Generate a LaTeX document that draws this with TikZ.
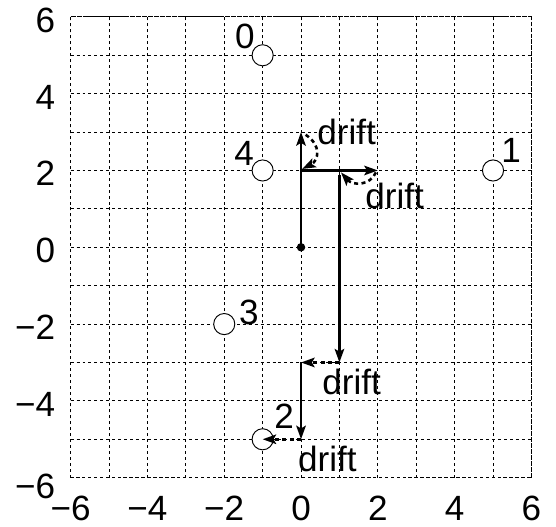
\documentclass[tikz,border=0pt]{standalone}
\usepackage{fontspec}
\setmainfont{Liberation Sans}
\usetikzlibrary{arrows.meta}
\begin{document}
\begin{tikzpicture}[
  every node/.style={font=\fontsize{26}{30}\selectfont, inner sep=0pt},
  gridline/.style={line width=0.6pt, dash pattern=on 2.2pt off 2.2pt},
  pt/.style={circle, draw, fill=white, line width=0.7pt, minimum size=0.55cm},
  dotnode/.style={circle, fill=black, minimum size=0.22cm},
  move/.style={line width=1.9pt, -{Stealth[length=10pt,width=7pt,inset=2pt]}},
  driftarrow/.style={line width=1.9pt, dash pattern=on 3pt off 2.5pt, -{Stealth[length=10pt,width=7pt,inset=2pt]}},
  lab/.style={anchor=base},
  dlab/.style={anchor=base west},
  ytick/.style={anchor=base east},
]
\useasboundingbox (-7.84,-7.28) rectangle (6.64,6.44);
\draw[gridline] (-6,-6) grid (6,6);
\draw[gridline] (-6,-6) rectangle (6,6);

% tick labels
\foreach \v/\t in {6/6,4/4,2/2,0/0,-2/−2,-4/−4}
  \node[ytick] (yt\v) at (-6.4,\v-0.4) {\t};
\node[ytick] (ytm6) at (-6.4,-6.53) {−6};
\foreach \v/\t in {-6/−6,-4/−4,-2/−2,0/0,2/2,4/4,6/6}
  \node[lab] (xt\v) at (\v,-7.12) {\t};

% points
\node[pt] (p0) at (-1,5) {};
\node[pt] (p1) at (5,2) {};
\node[pt] (p2) at (-1,-5) {};
\node[pt] (p3) at (-2,-2) {};
\node[pt] (p4) at (-1,2) {};
\node[lab] (l0) at (-1.46,5.17) {0};
\node[lab] (l1) at (5.47,2.22) {1};
\node[lab] (l2) at (-0.44,-4.71) {2};
\node[lab] (l3) at (-1.36,-2.02) {3};
\node[lab] (l4) at (-1.48,2.14) {4};

% path
\node[dotnode] (o) at (0,0) {};
\coordinate (a) at (0,3);
\coordinate (b0) at (0,2);
\coordinate (b) at (2,2);
\coordinate (c0) at (1,1.87);
\coordinate (c) at (1,-3);
\coordinate (d) at (0,-3);
\coordinate (e) at (0,-5);
\coordinate (f) at (-1,-5);

\draw[move] (o.center) -- (a);
\draw[move] (b0) -- (b);
\draw[move] (c0) -- (c);
\draw[move] (d) -- (e);

% drifts
\coordinate (s1) at (0.12,2.93);
\coordinate (t1) at (0.03,2.04);
\draw[driftarrow] (s1) .. controls (0.55,2.65) and (0.45,2.25) .. (t1);
\coordinate (s2) at (1.95,1.95);
\coordinate (t2) at (1.04,1.95);
\draw[driftarrow] (s2) .. controls (1.8,1.6) and (1.35,1.6) .. (t2);
\draw[driftarrow] (c) -- (d);
\draw[driftarrow] (e) -- (f);

\node[dlab] (dr1) at (0.42,2.67) {drift};
\node[dlab] (dr2) at (1.67,1.02) {drift};
\node[dlab] (dr3) at (0.55,-3.84) {drift};
\node[dlab] (dr4) at (-0.08,-5.85) {drift};
\end{tikzpicture}
\end{document}
